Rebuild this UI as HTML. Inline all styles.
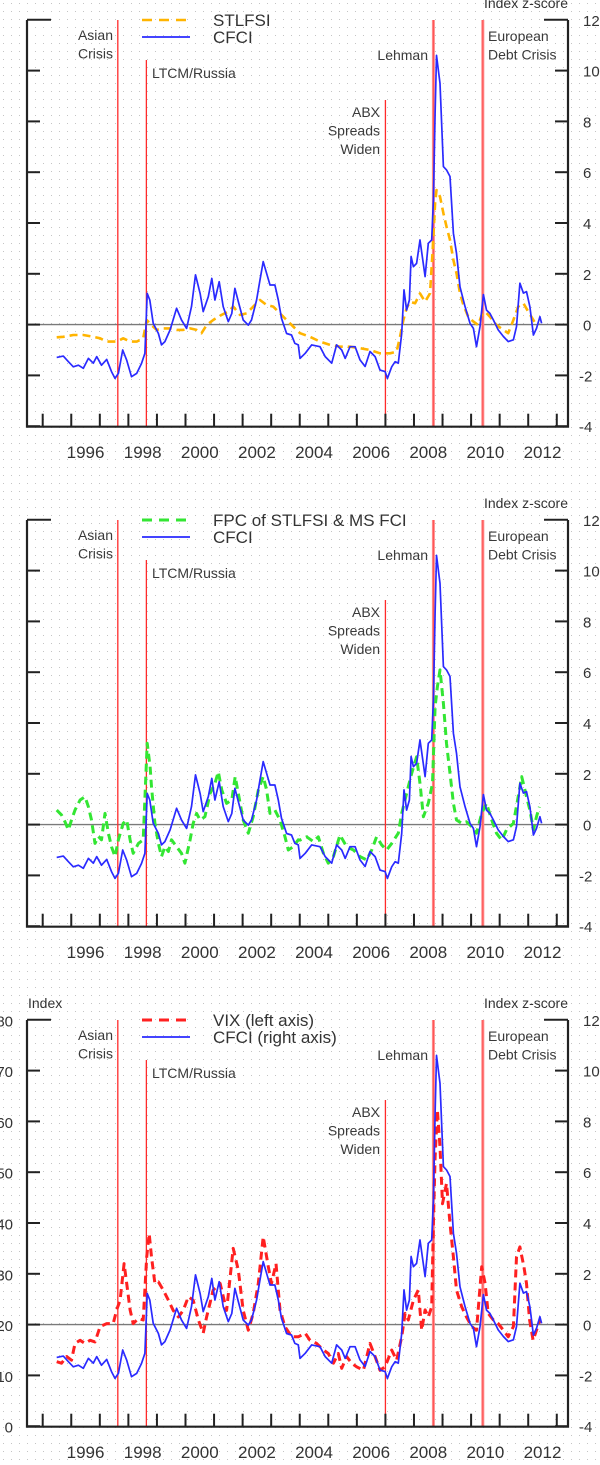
<!DOCTYPE html>
<html><head><meta charset="utf-8">
<style>
html,body{margin:0;padding:0;background:#fff;}
svg{display:block;font-family:"Liberation Sans",sans-serif;}
</style></head>
<body>
<svg id="chart" width="600" height="1465" viewBox="0 0 600 1465" xmlns="http://www.w3.org/2000/svg">
<defs>
<pattern id="dots" width="8" height="8" patternUnits="userSpaceOnUse"><rect x="3" y="3" width="1" height="1" fill="#c4c4c4"/></pattern>
</defs>
<rect width="600" height="1465" fill="#fff"/>
<rect width="600" height="1465" fill="url(#dots)"/>
</svg>
<script>
const cfciYears=[1995.49,1995.72,1995.90,1996.07,1996.25,1996.42,1996.60,1996.77,1996.89,1997.06,1997.24,1997.41,1997.53,1997.65,1997.80,1997.94,1998.11,1998.29,1998.46,1998.58,1998.66,1998.75,1998.87,1999.05,1999.16,1999.28,1999.46,1999.69,1999.86,2000.04,2000.21,2000.35,2000.51,2000.62,2000.80,2000.92,2001.03,2001.18,2001.32,2001.50,2001.62,2001.73,2001.85,2002.02,2002.20,2002.31,2002.49,2002.61,2002.72,2002.84,2002.96,2003.13,2003.25,2003.36,2003.54,2003.71,2003.83,2003.95,
2004.01,2004.19,2004.42,2004.71,2004.89,2005.12,2005.29,2005.47,2005.59,2005.76,2005.94,2006.11,2006.29,2006.46,2006.64,2006.81,2006.99,2007.07,2007.22,2007.34,2007.45,2007.57,2007.65,2007.74,2007.84,2007.90,2007.98,2008.09,2008.21,2008.39,2008.50,2008.62,2008.68,2008.74,2008.79,2008.91,2009.03,2009.14,2009.26,2009.38,2009.49,2009.61,2009.79,2009.96,2010.08,2010.19,2010.31,2010.43,2010.54,2010.66,2010.78,2010.95,2011.13,2011.30,2011.48,2011.59,2011.71,2011.83,2011.94,2012.06,2012.18,2012.29,2012.41,2012.47];
const cfciValues=[-1.29,-1.24,-1.46,-1.66,-1.6,-1.72,-1.33,-1.52,-1.26,-1.6,-1.37,-1.85,-2.12,-1.92,-1.0,-1.4,-2.05,-1.92,-1.53,-1.13,1.23,0.97,0.05,-0.35,-0.80,-0.67,-0.21,0.64,0.18,-0.15,0.71,1.96,1.23,0.51,1.10,1.82,0.97,1.69,0.71,0.12,0.44,1.43,0.91,0.18,-0.02,0.18,0.97,1.76,2.48,2.02,1.56,1.56,0.97,0.25,-0.35,-0.41,-0.74,-0.80,
-1.33,-1.13,-0.80,-0.87,-1.26,-1.52,-0.80,-1.00,-1.33,-0.87,-0.87,-1.39,-1.65,-1.06,-1.26,-1.79,-1.85,-2.12,-1.66,-1.46,-1.52,-0.35,1.37,0.57,0.97,2.68,2.28,2.41,3.33,1.89,3.20,3.33,4.90,8.31,10.6,9.5,6.22,6.09,5.83,3.60,2.81,1.49,0.70,0.05,-0.15,-0.87,-0.08,1.18,0.57,0.44,0.18,-0.21,-0.47,-0.67,-0.60,-0.08,1.63,1.24,1.30,0.70,-0.41,-0.15,0.31,0.05];
const stlfsiYears=[1995.49,1995.72,1996.07,1996.42,1996.77,1997.01,1997.24,1997.59,1997.82,1998.06,1998.29,1998.52,1998.64,1998.81,1998.99,1999.22,1999.46,1999.69,1999.92,2000.16,2000.39,2000.56,2000.74,2000.97,2001.26,2001.50,2001.67,2001.91,2002.14,2002.37,2002.61,2002.84,2003.07,2003.31,2003.54,2003.77,
2004.01,2004.36,2004.71,2005.06,2005.41,2005.76,2006.11,2006.46,2006.81,2007.16,2007.39,2007.51,2007.63,2007.74,2007.86,2008.04,2008.21,2008.39,2008.56,2008.65,2008.74,2008.79,2008.91,2009.03,2009.14,2009.26,2009.38,2009.49,2009.61,2009.73,2009.90,2010.08,2010.25,2010.37,2010.49,2010.66,2010.89,2011.13,2011.30,2011.48,2011.65,2011.83,2012.00,2012.18,2012.29];
const stlfsiValues=[-0.50,-0.48,-0.41,-0.41,-0.48,-0.54,-0.67,-0.67,-0.54,-0.67,-0.67,-0.54,0.18,-0.02,-0.21,-0.15,-0.15,-0.21,-0.21,-0.15,-0.21,-0.34,-0.02,0.18,0.38,0.51,0.71,0.38,0.44,0.71,0.97,0.77,0.71,0.44,0.18,-0.08,
-0.34,-0.48,-0.67,-0.80,-0.87,-0.87,-0.93,-1.0,-1.13,-1.13,-1.07,-0.48,0.18,0.64,0.90,0.84,1.23,0.90,1.23,2.81,4.78,5.30,5.04,4.38,3.86,3.33,2.54,2.02,1.23,0.77,0.31,0.12,-0.02,0.38,0.51,0.31,-0.02,-0.21,-0.34,0.18,0.71,0.84,0.51,0.18,-0.02];
const fpcYears=[1995.49,1995.66,1995.78,1995.90,1996.01,1996.13,1996.31,1996.48,1996.60,1996.71,1996.83,1996.95,1997.06,1997.18,1997.30,1997.41,1997.53,1997.65,1997.82,1997.94,1998.06,1998.17,1998.35,1998.52,1998.66,1998.76,1998.81,1998.93,1999.05,1999.16,1999.28,1999.40,1999.51,1999.69,1999.86,1999.98,2000.16,2000.27,2000.39,2000.51,2000.68,2000.86,2001.03,2001.15,2001.27,2001.44,2001.62,2001.74,2001.85,2002.02,2002.20,2002.37,2002.55,2002.72,2002.84,2002.96,2003.13,2003.31,2003.48,2003.60,2003.77,2003.95,
2004.01,2004.24,2004.48,2004.65,2004.83,2005.00,2005.18,2005.41,2005.64,2005.88,2006.11,2006.34,2006.52,2006.69,2006.87,2007.04,2007.22,2007.45,2007.57,2007.74,2007.92,2008.09,2008.21,2008.33,2008.50,2008.65,2008.74,2008.82,2008.91,2009.03,2009.14,2009.26,2009.38,2009.49,2009.67,2009.84,2010.02,2010.19,2010.37,2010.54,2010.72,2010.89,2011.07,2011.24,2011.48,2011.65,2011.77,2011.94,2012.06,2012.18,2012.29,2012.39];
const fpcValues=[0.57,0.38,0.11,-0.21,0.18,0.57,0.97,1.10,0.70,0.18,-0.74,-0.47,-0.60,0.44,-0.34,-0.87,-1.26,-0.60,0.05,0.18,-0.60,-1.13,-0.74,-0.60,3.20,2.28,1.49,0.05,-0.74,-1.26,-0.87,-1.06,-0.60,-0.87,-1.13,-1.52,-0.60,0.05,0.44,0.18,0.31,1.23,1.62,2.08,1.36,0.84,0.97,1.89,1.23,0.18,-0.34,0.31,1.36,1.89,1.36,0.44,0.57,0.18,-0.47,-1.00,-0.87,-0.60,
-0.61,-0.48,-0.67,-0.48,-1.13,-1.52,-1.26,-0.41,-0.87,-1.00,-1.26,-1.39,-1.00,-0.48,-0.80,-1.00,-0.74,-0.34,0.44,1.23,2.02,2.67,1.62,0.31,0.84,1.62,4.64,5.43,6.09,4.77,3.20,2.02,0.84,0.18,0.05,0.11,-0.08,-0.34,0.44,0.84,0.18,-0.34,-0.61,-0.21,0.05,1.10,1.89,1.10,0.57,-0.21,0.31,0.70];
const vixYears=[1995.49,1995.66,1995.84,1996.01,1996.13,1996.31,1996.48,1996.66,1996.83,1997.01,1997.24,1997.47,1997.59,1997.71,1997.85,1997.94,1998.06,1998.17,1998.35,1998.52,1998.64,1998.73,1998.81,1998.93,1999.05,1999.22,1999.40,1999.57,1999.75,1999.92,2000.10,2000.27,2000.45,2000.62,2000.74,2000.97,2001.21,2001.44,2001.67,2001.85,2002.02,2002.20,2002.37,2002.55,2002.72,2002.90,2003.01,2003.17,2003.31,2003.48,2003.72,2003.95,
2004.19,2004.36,2004.59,2004.83,2005.00,2005.18,2005.35,2005.47,2005.64,2005.82,2005.99,2006.23,2006.46,2006.64,2006.81,2006.99,2007.22,2007.39,2007.57,2007.69,2007.80,2007.98,2008.15,2008.27,2008.39,2008.50,2008.62,2008.68,2008.74,2008.82,2008.91,2009.00,2009.14,2009.26,2009.38,2009.49,2009.67,2009.84,2010.02,2010.19,2010.37,2010.49,2010.60,2010.78,2010.95,2011.13,2011.30,2011.48,2011.59,2011.71,2011.85,2011.94,2012.05,2012.17,2012.29,2012.41];
const vixValues=[12.8,12.5,13.8,13.1,16.4,17.0,16.4,17.0,16.7,19.7,20.3,20.3,23.0,24.9,32.1,28.2,23.0,20.3,21.3,21.0,33.4,38.0,33.4,28.2,28.5,26.9,24.9,22.9,21.6,22.9,25.6,24.9,21.0,18.4,21.6,26.9,28.2,22.9,35.1,30.8,22.9,19.0,22.3,28.2,37.4,31.5,28.2,32.1,23.0,19.7,17.7,17.7,
18.4,17.0,16.4,15.1,14.4,12.5,14.4,11.5,13.8,12.5,11.8,11.1,16.4,13.8,11.1,11.8,15.1,13.1,17.7,22.3,21.0,24.9,26.9,19.0,23.0,21.6,23.6,40.0,53.1,62.3,55.1,43.9,47.9,40.0,33.4,26.9,23.6,21.6,19.7,19.0,31.5,28.2,22.3,21.0,20.3,19.0,17.7,19.7,33.4,35.4,31.5,28.2,21.0,17.0,19.0,21.0];
const eventNames=["asian-crisis","ltcm-russia","abx-spreads-widen","lehman","european-debt-crisis"];
const eventDates=[1997.63,1998.63,2007.0,2008.68,2010.41];
const yearLabels=["1996","1998","2000","2002","2004","2006","2008","2010","2012"];
const yearTicks=[1995,1996,1997,1998,1999,2000,2001,2002,2003,2004,2005,2006,2007,2008,2009,2010,2011,2012,2013];
const rightTicks=[12,10,8,6,4,2,0,-2,-4];
const leftTicks=[80,70,60,50,40,30,20,10,0];

const NS="http://www.w3.org/2000/svg";
const svg=document.getElementById('chart');
function mk(tag,attrs,parent,txt){const e=document.createElementNS(NS,tag);for(const k in attrs)e.setAttribute(k,attrs[k]);if(txt!==undefined)e.textContent=txt;(parent||svg).appendChild(e);return e;}
const X0=27,X1=568;
function xs(t){return 42.7+(t-1995)*28.56;}
function yR(v,off){return off+324.6-v*25.4;}
function yL(v,off){return off+426.7-v*5.08;}
function pathD(xsArr,ysArr,fy,off){let d='';for(let i=0;i<xsArr.length;i++){d+=(i?'L':'M')+xs(xsArr[i]).toFixed(1)+','+fy(ysArr[i],off).toFixed(1);}return d;}

function panel(off,idx,cfg){
  const g=mk('g',{});
  
  
  const top=20+off,bot=426.7+off;
  // zero line
  const z=mk('line',{x1:X0,x2:X1,y1:yR(0,off),y2:yR(0,off),stroke:'#7a7a7a','stroke-width':1.4},g);
  
  
  // events
  const evLabels=[
    {lines:['Asian','Crisis'],x:113,y0:35,anchor:'end'},
    {lines:['LTCM/Russia'],x:152,y0:73,anchor:'start'},
    {lines:['ABX','Spreads','Widen'],x:380,y0:112,anchor:'end'},
    {lines:['Lehman'],x:428,y0:55,anchor:'end'},
    {lines:['European','Debt Crisis'],x:488,y0:36,anchor:'start'}];
  const evTop=[20,60,100,20,20];
  for(let i=0;i<eventDates.length;i++){
    const wide=(i>=3);
    const l=mk('line',{x1:xs(eventDates[i]),x2:xs(eventDates[i]),y1:evTop[i]+off,y2:bot,stroke:wide?'#ff8c8c':'#ff2a2a','stroke-width':wide?3:1.3},g);
    
    
    if(wide){mk('line',{x1:xs(eventDates[i]),x2:xs(eventDates[i]),y1:evTop[i]+off,y2:bot,stroke:'#ff5050','stroke-width':1},g);}
    const L=evLabels[i];
    const t=mk('text',{x:L.x,y:L.y0+off+5,'font-size':14,fill:'#3a3a3a','text-anchor':L.anchor},g);
    
    
    L.lines.forEach((s,k)=>{mk('tspan',{x:L.x,dy:k?18.5:0},t,s);});
  }
  // series
  cfg.series.forEach(s=>{
    const p=mk('path',{d:pathD(s.xs,s.ys,s.fy,off),fill:'none',stroke:s.color,'stroke-width':s.w,'stroke-dasharray':s.dash||'none','stroke-linejoin':'round'},g);
    
    
  });
  // frame
  const fr=mk('path',{d:`M${X0},${top}V${bot}H${X1}V${top}`,fill:'none',stroke:'#222','stroke-width':2.2},g);
  
  
  rightTicks.forEach((v,i)=>{
    const y=yR(v,off);
    const len=(i===0)?24:13;
    mk('line',{x1:X0,x2:X0+len,y1:y,y2:y,stroke:'#222','stroke-width':2},g);
    mk('line',{x1:X1-len,x2:X1,y1:y,y2:y,stroke:'#222','stroke-width':2},g);
    const t=mk('text',{x:v<0?579:583,y:y+6,'font-size':15,fill:'#333'},g,String(v));
    
    
  });
  if(cfg.left){
    leftTicks.forEach(v=>{
      const t=mk('text',{x:13,y:yL(v,off)+6,'font-size':15,fill:'#333','text-anchor':'end'},g,String(v));
      
      
    });
    const il=mk('text',{x:28,y:off+8,'font-size':14,fill:'#333'},g,'Index');
    
    
  }
  yearTicks.forEach(yr=>{
    const x=xs(yr); if(x>X1-2)return;
    mk('line',{x1:x,x2:x,y1:bot-13,y2:bot,stroke:'#222','stroke-width':2},g);
  });
  yearLabels.forEach(s=>{
    const t=mk('text',{x:xs(+s+0.5),y:off+458,'font-size':17,fill:'#333','text-anchor':'middle'},g,s);
    
    
  });
  const rt=mk('text',{x:568,y:off+8,'font-size':14,fill:'#333','text-anchor':'end'},g,'Index z-score');
  
  
  // legend
  cfg.legend.forEach((e,i)=>{
    const y=off+20+i*17;
    const lg=mk('g',{},g);
    
    
    mk('line',{x1:142,x2:190,y1:y,y2:y,stroke:e.color,'stroke-width':e.w,'stroke-dasharray':e.dash||'none'},lg);
    mk('text',{x:213,y:y+6,'font-size':17,fill:'#333'},lg,e.label);
  });
}
const blue={name:'cfci-line',xs:cfciYears,ys:cfciValues,fy:yR,color:'#2a2aff',w:1.7};
panel(0,1,{series:[{name:'stlfsi-line',xs:stlfsiYears,ys:stlfsiValues,fy:yR,color:'#ffb400',w:2.6,dash:'8 5'},blue],
  legend:[{label:'STLFSI',color:'#ffb400',w:2.6,dash:'10 7'},{label:'CFCI',color:'#2a2aff',w:1.7}]});
panel(500,2,{series:[{name:'fpc-line',xs:fpcYears,ys:fpcValues,fy:yR,color:'#33e633',w:3,dash:'8 5'},blue],
  legend:[{label:'FPC of STLFSI & MS FCI',color:'#33e633',w:3,dash:'10 7'},{label:'CFCI',color:'#2a2aff',w:1.7}]});
panel(1000,3,{left:true,series:[{name:'vix-line',xs:vixYears,ys:vixValues,fy:yL,color:'#ff2020',w:3,dash:'8 5'},blue],
  legend:[{label:'VIX (left axis)',color:'#ff2020',w:3,dash:'10 7'},{label:'CFCI (right axis)',color:'#2a2aff',w:1.7}]});
</script>
</body></html>
